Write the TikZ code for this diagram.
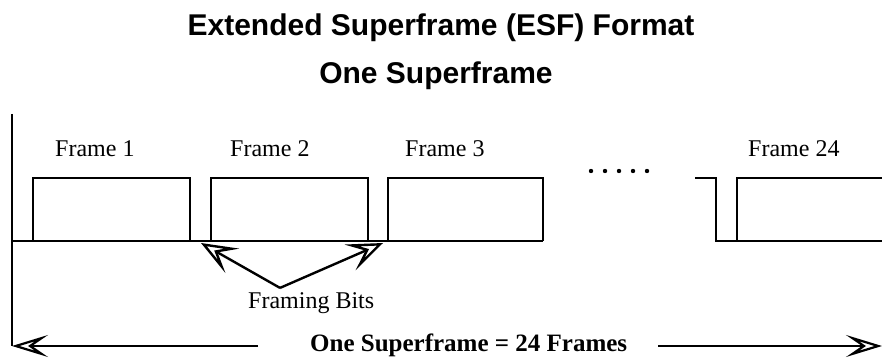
\documentclass[tikz,border=0pt]{standalone}
\usepackage{fontspec}
\setmainfont{Liberation Serif}
\newfontfamily\headfont{Liberation Sans}
\usetikzlibrary{arrows.meta}

\begin{document}
\begin{tikzpicture}[x=1pt,y=-1pt, every node/.style={inner sep=0pt},
  wave/.style={line width=2pt},
  framelabel/.style={anchor=base west,font=\fontsize{24}{28}\selectfont},
  headline/.style={anchor=base,font=\headfont\bfseries\fontsize{30}{36}\selectfont},
  bitarrow/.style={-{Stealth[open,length=36pt,width=28pt,inset=17pt]},line width=2.4pt},
  spanarrow/.style={-{Stealth[open,length=36pt,width=22pt,inset=16pt]},line width=2.2pt}]
  \useasboundingbox (0,0) rectangle (882,358);
  % titles
  \node[headline] (title) at (441,36) {Extended Superframe (ESF) Format};
  \node[headline] (sub) at (436,84) {One Superframe};
  % frame labels
  \foreach \x/\n in {55/1,230/2,405/3,748/24}{
    \node[framelabel] (lab\n) at (\x,157) {Frame \n};
  }
  % pulse train
  \draw[wave] (12,114) -- (12,346);
  \draw[wave] (12,241) -- (543,241);
  \foreach \a/\b in {33/190,211/368,388/543}{
    \draw[wave] (\a,241) |- (\b,178) -- (\b,241);
  }
  \draw[wave] (695,178) -| (716,241) -| (737,178) -- (884,178);
  \draw[wave] (737,241) -- (884,241);
  \foreach \x in {591,605,619,633,647}{
    \fill (\x,171) circle (2.2pt);
  }
  % framing bits
  \node[framelabel] (bits) at (248,308) {Framing Bits};
  \coordinate (fbjoin) at ([xshift=32pt,yshift=4pt]bits.north west);
  \coordinate (fbtip1) at (201,243);
  \coordinate (fbtip2) at (383,243);
  \draw[bitarrow] (fbjoin) -- (fbtip1);
  \draw[bitarrow] (fbjoin) -- (fbtip2);
  % superframe span
  \node[anchor=base west,font=\bfseries\fontsize{25}{30}\selectfont] (span) at (310,351) {One Superframe = 24 Frames};
  \coordinate (leftend) at (12,346);
  \coordinate (rightend) at (882,346);
  \draw[spanarrow] ([xshift=-52pt]span.west |- leftend) -- (leftend);
  \draw[spanarrow] ([xshift=31pt]span.east |- rightend) -- (rightend);
\end{tikzpicture}
\end{document}
